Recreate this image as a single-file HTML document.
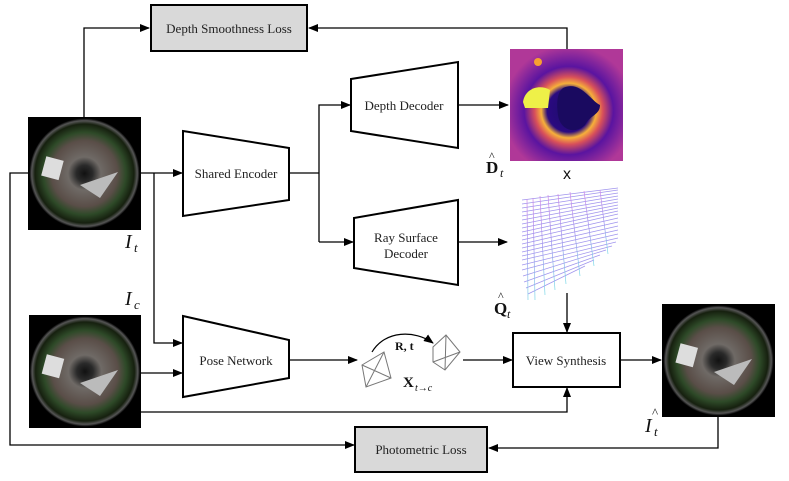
<!DOCTYPE html>
<html><head><meta charset="utf-8"><style>
html,body{margin:0;padding:0;background:#fff;}
svg{display:block;font-family:"Liberation Serif",serif;}
</style></head><body>
<svg width="789" height="481" viewBox="0 0 789 481" xmlns="http://www.w3.org/2000/svg">
<defs>
<marker id="a" markerWidth="10" markerHeight="8" refX="9" refY="4" orient="auto" markerUnits="userSpaceOnUse"><path d="M0,0 L10,4 L0,8 z" fill="#000"/></marker>
<radialGradient id="fish" cx="50%" cy="50%" r="50%">
<stop offset="0" stop-color="#111"/><stop offset="0.15" stop-color="#2a2a2a"/><stop offset="0.3" stop-color="#6f6a66"/><stop offset="0.6" stop-color="#5a4e48"/><stop offset="0.75" stop-color="#2e4a28"/><stop offset="0.9" stop-color="#16200f"/><stop offset="0.96" stop-color="#555"/><stop offset="1" stop-color="#050505"/></radialGradient>
<radialGradient id="dep" cx="52%" cy="55%" r="58%">
<stop offset="0" stop-color="#1d0c6b"/><stop offset="0.33" stop-color="#2a0a80"/><stop offset="0.42" stop-color="#f7b03a"/><stop offset="0.52" stop-color="#d8505a"/><stop offset="0.68" stop-color="#5a14a0"/><stop offset="1" stop-color="#b03898"/></radialGradient>
<linearGradient id="ray" x1="0" y1="0" x2="1" y2="1"><stop offset="0" stop-color="#c060e0"/><stop offset="0.5" stop-color="#8070e8"/><stop offset="1" stop-color="#50d0e0"/></linearGradient>
</defs>
<g stroke="#000" stroke-width="1.3" fill="none">
<polyline points="84,117 84,28 149,28" marker-end="url(#a)"/>
<polyline points="567,49 567,28 309,28" marker-end="url(#a)"/>
<line x1="141" y1="173" x2="182" y2="173" marker-end="url(#a)"/>
<polyline points="154,173 154,343 182,343" marker-end="url(#a)"/>
<polyline points="28,173 10,173 10,445 354,445" marker-end="url(#a)"/>
<polyline points="289,173 319,173"/>
<polyline points="319,242 319,105 350,105" marker-end="url(#a)"/>
<polyline points="319,242 353,242" marker-end="url(#a)"/>
<line x1="458" y1="105" x2="508" y2="105" marker-end="url(#a)"/>
<line x1="458" y1="242" x2="507" y2="242" marker-end="url(#a)"/>
<line x1="567" y1="293" x2="567" y2="332" marker-end="url(#a)"/>
<line x1="141" y1="373" x2="182" y2="373" marker-end="url(#a)"/>
<line x1="289" y1="360" x2="357" y2="360" marker-end="url(#a)"/>
<line x1="463" y1="360" x2="512" y2="360" marker-end="url(#a)"/>
<line x1="620" y1="360" x2="661" y2="360" marker-end="url(#a)"/>
<polyline points="141,412 567,412 567,388" marker-end="url(#a)"/>
<polyline points="718,417 718,448 489,448" marker-end="url(#a)"/>
</g>
<g stroke="#000" stroke-width="2" fill="#fff">
<rect x="151" y="5" width="156" height="46" fill="#d9d9d9"/>
<rect x="355" y="427" width="132" height="45" fill="#d9d9d9"/>
<rect x="513" y="333" width="107" height="54"/>
<polygon points="183,131 289,148 289,200 183,216"/>
<polygon points="351,79 458,62 458,148 351,131"/>
<polygon points="354,218 458,200 458,285 354,268"/>
<polygon points="183,316 289,340 289,378 183,397"/>
</g>
<g font-size="13" text-anchor="middle" fill="#222">
<text x="229" y="33">Depth Smoothness Loss</text>
<text x="421" y="454">Photometric Loss</text>
<text x="566" y="365">View Synthesis</text>
<text x="236" y="178">Shared Encoder</text>
<text x="404" y="110">Depth Decoder</text>
<text x="406" y="242">Ray Surface</text>
<text x="406" y="258">Decoder</text>
<text x="236" y="365">Pose Network</text>
</g>
<g>
<rect x="28" y="117" width="113" height="113" fill="#000"/><circle cx="84.5" cy="173.5" r="55" fill="url(#fish)"/>
<rect x="44" y="158" width="18" height="20" fill="#ddd" transform="rotate(15 52 166)"/><polygon points="80,185 118,172 100,198" fill="#bbb"/>
<rect x="29" y="315" width="112" height="113" fill="#000"/><circle cx="85" cy="371.5" r="55" fill="url(#fish)"/>
<rect x="44" y="356" width="18" height="20" fill="#ddd" transform="rotate(15 52 366)"/><polygon points="80,383 118,370 100,396" fill="#bbb"/>
<rect x="662" y="304" width="113" height="113" fill="#000"/><circle cx="718.5" cy="360.5" r="55" fill="url(#fish)"/>
<rect x="678" y="345" width="18" height="20" fill="#ddd" transform="rotate(15 686 354)"/><polygon points="714,372 752,359 734,385" fill="#bbb"/>
<rect x="510" y="49" width="113" height="112" fill="url(#dep)"/>
<path d="M523,102 C525,88 540,84 550,90 L548,108 L525,108 z" fill="#eef048"/>
<path d="M563,88 C580,80 590,100 600,105 C600,115 590,115 585,125 C575,135 560,130 558,115 C556,100 558,92 563,88 z" fill="#1a0a60"/>
<circle cx="538" cy="62" r="4" fill="#f7a030"/>
</g>
<g stroke="url(#ray)" stroke-width="0.7" opacity="0.75">
<line x1="522" y1="200" x2="618" y2="188"/><line x1="522" y1="204" x2="618" y2="190"/><line x1="522" y1="208" x2="618" y2="193"/><line x1="522" y1="212" x2="618" y2="196"/><line x1="522" y1="216" x2="618" y2="199"/><line x1="522" y1="220" x2="618" y2="202"/><line x1="522" y1="224" x2="618" y2="205"/><line x1="522" y1="228" x2="618" y2="208"/><line x1="522" y1="232" x2="618" y2="211"/><line x1="522" y1="236" x2="618" y2="214"/><line x1="522" y1="240" x2="618" y2="218"/><line x1="522" y1="244" x2="618" y2="222"/><line x1="522" y1="248" x2="618" y2="226"/><line x1="522" y1="252" x2="618" y2="230"/><line x1="522" y1="256" x2="618" y2="234"/><line x1="522" y1="260" x2="618" y2="238"/><line x1="522" y1="265" x2="616" y2="242"/><line x1="522" y1="270" x2="612" y2="246"/><line x1="523" y1="276" x2="606" y2="250"/><line x1="524" y1="282" x2="600" y2="255"/><line x1="526" y1="288" x2="594" y2="260"/><line x1="528" y1="294" x2="585" y2="266"/>
<line x1="522" y1="200" x2="522" y2="295"/><line x1="527" y1="199" x2="528" y2="300"/><line x1="533" y1="198" x2="535" y2="300"/><line x1="540" y1="196" x2="545" y2="295"/><line x1="548" y1="195" x2="555" y2="290"/><line x1="558" y1="194" x2="566" y2="284"/><line x1="570" y1="192" x2="580" y2="276"/><line x1="584" y1="191" x2="594" y2="266"/><line x1="600" y1="190" x2="608" y2="254"/>
</g>
<g stroke="#777" stroke-width="1" fill="none">
<polygon points="362,365 384,352 391,378 366,387"/><line x1="362" y1="365" x2="391" y2="378"/><line x1="384" y1="352" x2="366" y2="387"/>
<polygon points="433,347 446,335 460,352 445,370 433,362"/><line x1="433" y1="362" x2="460" y2="352"/><line x1="446" y1="335" x2="445" y2="370"/>
</g>
<path d="M372,352 C385,330 415,330 433,343" stroke="#000" stroke-width="1.2" fill="none" marker-end="url(#a)"/>
<g font-family="Liberation Serif, serif" fill="#111">
<text x="395" y="350" font-size="12" font-weight="bold">R, t</text>
<text x="403" y="387" font-size="15" font-weight="bold">X</text><text x="415" y="391" font-size="10" font-style="italic">t→c</text>
<text x="125" y="248" font-size="20" font-style="italic">I</text><text x="134" y="252" font-size="13" font-style="italic">t</text>
<text x="125" y="305" font-size="20" font-style="italic">I</text><text x="134" y="309" font-size="13" font-style="italic">c</text>
<text x="645" y="432" font-size="20" font-style="italic">I</text><text x="652" y="417" font-size="13">^</text><text x="654" y="436" font-size="13" font-style="italic">t</text>
<text x="486" y="173" font-size="17" font-weight="bold">D</text><text x="489" y="160" font-size="12">^</text><text x="500" y="177" font-size="12" font-style="italic">t</text>
<text x="494" y="314" font-size="17" font-weight="bold">Q</text><text x="498" y="300" font-size="12">^</text><text x="507" y="318" font-size="12" font-style="italic">t</text>
<text x="563" y="179" font-size="16" font-family="Liberation Sans, sans-serif">x</text>
</g>
</svg>
</body></html>
